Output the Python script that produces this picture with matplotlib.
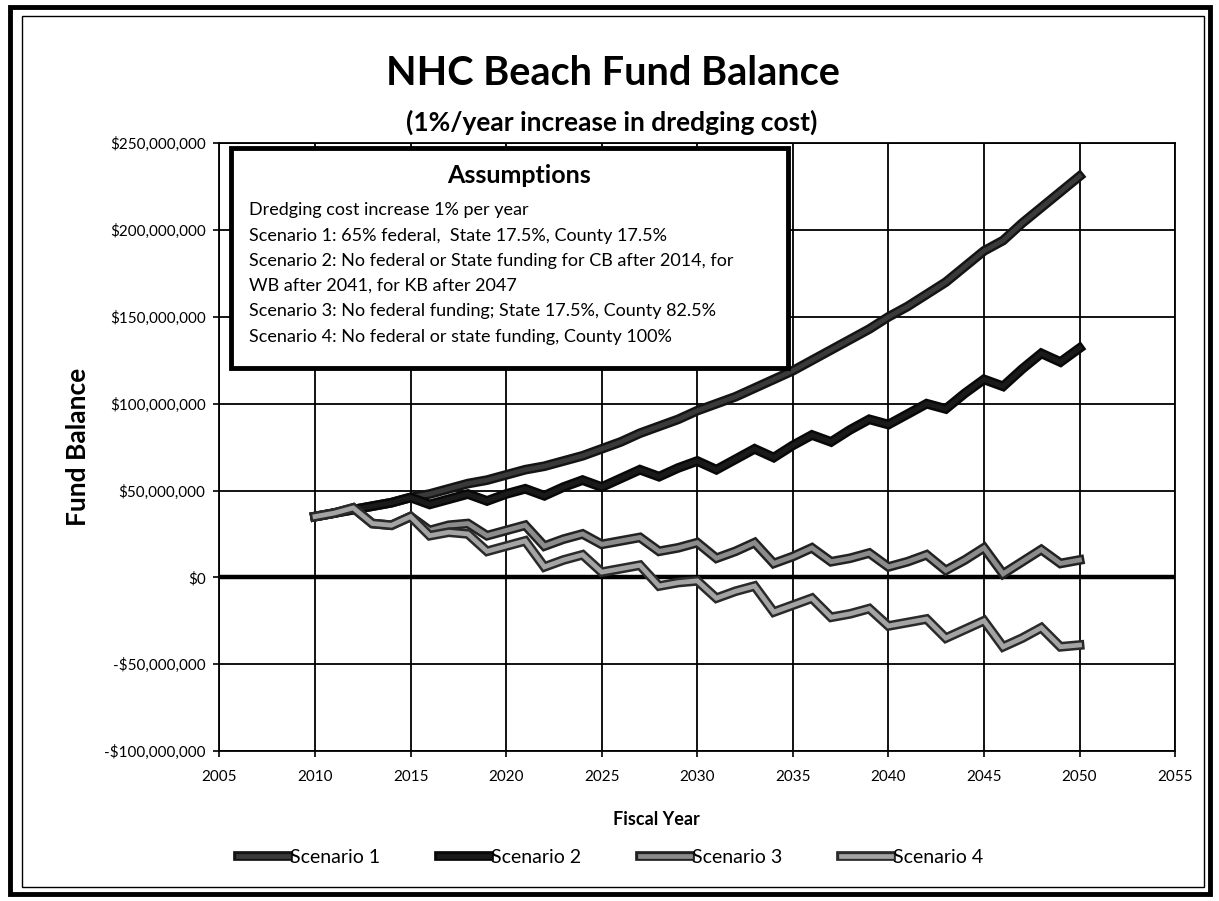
import matplotlib
matplotlib.use("Agg")
import matplotlib.pyplot as plt
import matplotlib.patheffects as pe
from matplotlib.patches import Rectangle
from matplotlib.ticker import FuncFormatter, MultipleLocator

plt.rcParams["font.family"] = ["Lato", "DejaVu Sans"]

# Fund balance by fiscal year, in $ millions
years = list(range(2010, 2051))

scenario_1 = [35, 37, 39, 41, 43, 46, 48, 51, 54, 56,
              59, 62, 64, 67, 70, 74, 78, 83, 87, 91,
              96, 100, 104, 109, 114, 119, 125, 131, 137, 143,
              150, 156, 163, 170, 179, 188, 194, 204, 213, 222,
              231]
scenario_2 = [35, 37, 39, 41, 43, 46, 42, 45, 48, 44,
              48, 51, 47, 52, 56, 52, 57, 62, 58, 63,
              67, 62, 68, 74, 69, 76, 82, 78, 85, 91,
              88, 94, 100, 97, 106, 114, 110, 120, 129, 124,
              132]
scenario_3 = [35, 37, 40, 31, 30, 35, 27, 30, 31, 24,
              27, 30, 18, 22, 25, 19, 21, 23, 15, 17,
              20, 11, 15, 20, 8, 12, 17, 9, 11, 14,
              6, 9, 13, 4, 10, 17, 2, 9, 16, 8,
              10]
scenario_4 = [35, 37, 40, 31, 30, 35, 24, 26, 25, 15,
              18, 21, 6, 10, 13, 3, 5, 7, -5, -3,
              -2, -12, -8, -5, -20, -16, -12, -23, -21, -18,
              -28, -26, -24, -35, -30, -25, -40, -35, -29, -40,
              -39]

labels = ["Scenario 1", "Scenario 2", "Scenario 3", "Scenario 4"]
series = [scenario_1, scenario_2, scenario_3, scenario_4]
edge_colors = ["#141414", "#080808", "#222222", "#2a2a2a"]
fill_colors = ["#3a3a3a", "#1a1a1a", "#8c8c8c", "#a4a4a4"]

assumptions = [
    "Dredging cost increase 1% per year",
    "Scenario 1: 65% federal,  State 17.5%, County 17.5%",
    "Scenario 2: No federal or State funding for CB after 2014, for",
    "WB after 2041, for KB after 2047",
    "Scenario 3: No federal funding; State 17.5%, County 82.5%",
    "Scenario 4: No federal or state funding, County 100%",
]

fig = plt.figure(figsize=(12.19, 9.01), dpi=100)
ax = fig.add_axes([0.180, 0.1665, 0.784, 0.6745])

for vals, lab, ec, fc in zip(series, labels, edge_colors, fill_colors):
    ax.plot(years, [v * 1e6 for v in vals], color=fc, lw=3.4, label=lab,
            solid_joinstyle="miter", zorder=3,
            path_effects=[pe.Stroke(linewidth=7, foreground=ec), pe.Normal()])

ax.set_xlim(2005, 2055)
ax.set_ylim(-100e6, 250e6)
ax.xaxis.set_major_locator(MultipleLocator(5))
ax.yaxis.set_major_locator(MultipleLocator(50e6))
ax.yaxis.set_major_formatter(FuncFormatter(
    lambda v, p: ("-$" if v < 0 else "$") + f"{abs(v):,.0f}"))
ax.grid(True, color="black", lw=1.3)
ax.axhline(0, color="black", lw=3.2, zorder=2)
for s in ax.spines.values():
    s.set_linewidth(1.3)
ax.tick_params(labelsize=11, length=4, width=1.2, direction="out", pad=6)
ax.tick_params(axis="x", pad=10)

ax.set_xlabel("Fiscal Year", fontsize=13, fontweight="bold", labelpad=16)
ax.xaxis.set_label_coords(0.457, -0.098)
ax.set_ylabel("Fund Balance", fontsize=19, fontweight="bold", labelpad=10)

fig.text(0.503, 0.918, "NHC Beach Fund Balance", ha="center", va="center",
         fontsize=28.5, fontweight="bold")
fig.text(0.502, 0.864, "(1%/year increase in dredging cost)", ha="center",
         va="center", fontsize=19, fontweight="bold")

# assumptions box
ax.add_patch(Rectangle((0.0126, 0.630), 0.582, 0.362, transform=ax.transAxes,
                       facecolor="white", edgecolor="black", lw=3.5, zorder=5))
ax.text(0.314, 0.947, "Assumptions", transform=ax.transAxes, ha="center",
        va="center", fontsize=18, fontweight="bold", zorder=6)
line_y = [0.891, 0.847, 0.806, 0.766, 0.724, 0.682]
for txt, yy in zip(assumptions, line_y):
    ax.text(0.031, yy, txt, transform=ax.transAxes, ha="left", va="center",
            fontsize=13, zorder=6)

fig.legend(loc="center", bbox_to_anchor=(0.501, 0.048), ncol=4, frameon=False,
           fontsize=14, handlelength=2.6, handletextpad=0.1, columnspacing=3.0)

# outer chart border
fig.add_artist(Rectangle((0.008, 0.008), 0.985, 0.984, transform=fig.transFigure,
                         fill=False, edgecolor="black", lw=3.5))
fig.add_artist(Rectangle((0.018, 0.016), 0.970, 0.966, transform=fig.transFigure,
                         fill=False, edgecolor="black", lw=1))

fig.savefig("out.png", dpi=100)
